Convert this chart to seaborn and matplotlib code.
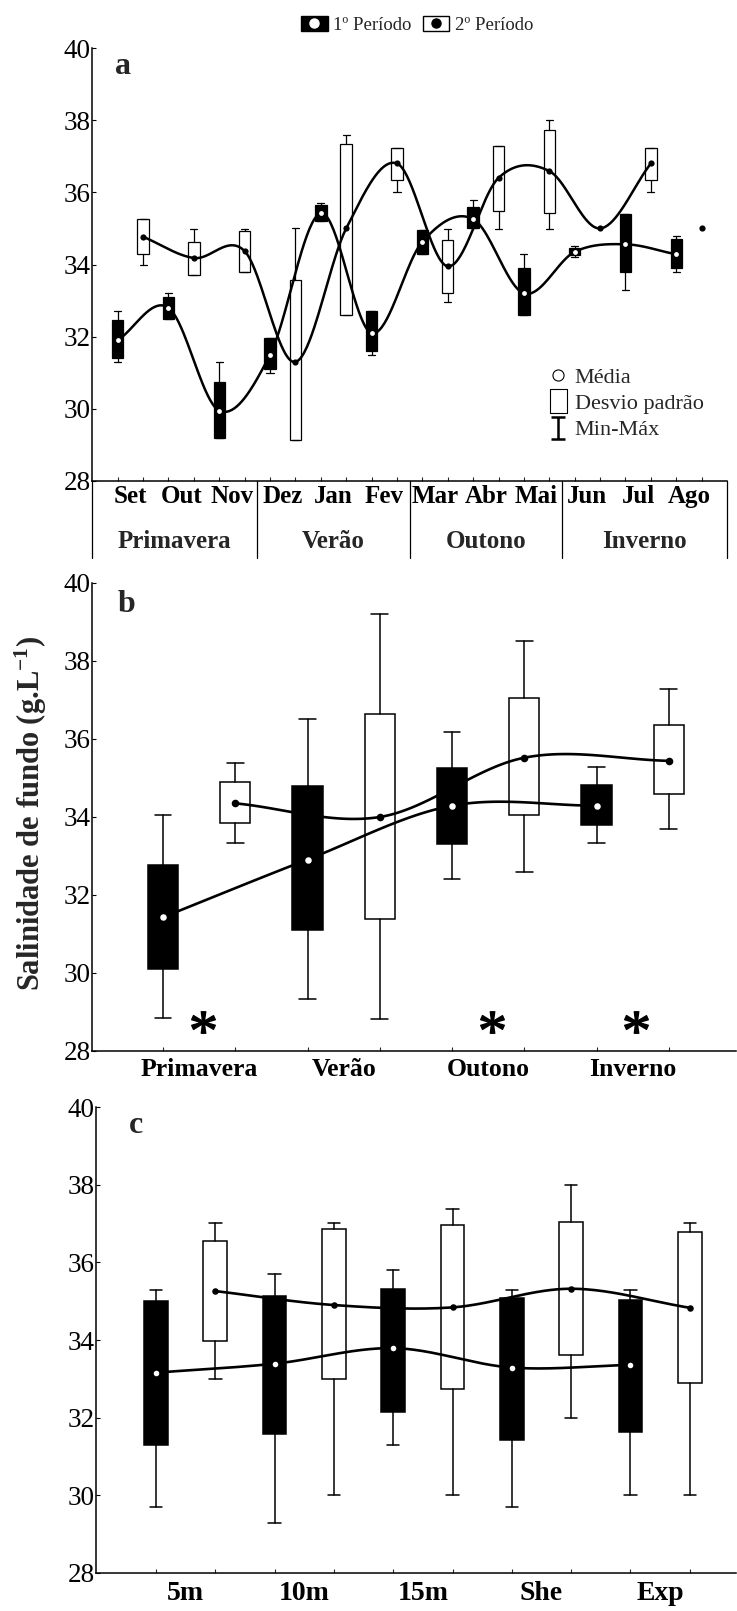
import numpy as np
import matplotlib
matplotlib.use("Agg")
import matplotlib.pyplot as plt
import matplotlib.transforms as mtransforms
from matplotlib.lines import Line2D
from matplotlib.patches import Patch
from matplotlib.path import Path
from matplotlib.legend_handler import HandlerTuple
import seaborn as sns

# ---------------- data ----------------
months = ["Set", "Out", "Nov", "Dez", "Jan", "Fev", "Mar", "Abr", "Mai", "Jun", "Jul", "Ago"]
seasons = ["Primavera", "Verão", "Outono", "Inverno"]
sites = ["5m", "10m", "15m", "She", "Exp"]
nan = np.nan

# panel a: monthly, period 1 (black) and period 2 (white)
a1_mean = [31.9, 32.8, 29.95, 31.5, 35.42, 32.1, 34.63, 35.26, 33.2, 34.35, 34.56, 34.28]
a1_lo = [31.4, 32.5, 29.2, 31.1, 35.2, 31.6, 34.3, 35.0, 32.6, 34.25, 33.8, 33.9]
a1_hi = [32.45, 33.1, 30.75, 31.95, 35.65, 32.7, 34.96, 35.6, 33.9, 34.45, 35.4, 34.7]
a1_min = [31.3, 32.5, 29.2, 31.0, 35.2, 31.5, 34.3, 35.0, 32.6, 34.2, 33.3, 33.8]
a1_max = [32.7, 33.2, 31.3, 31.95, 35.7, 32.7, 34.96, 35.8, 34.3, 34.5, 35.4, 34.78]

a2_mean = [34.77, 34.18, 34.37, 31.3, 35.0, 36.8, 33.95, 36.4, 36.59, 35.0, 36.8, 35.0]
a2_lo = [34.3, 33.7, 33.8, 29.15, 32.6, 36.35, 33.2, 35.48, 35.43, nan, 36.35, nan]
a2_hi = [35.25, 34.63, 34.93, 33.57, 37.33, 37.24, 34.68, 37.28, 37.74, nan, 37.24, nan]
a2_min = [34.0, 33.7, 33.8, 29.15, 32.6, 36.0, 32.95, 34.97, 34.97, nan, 36.0, nan]
a2_max = [35.25, 34.97, 34.97, 35.0, 37.6, 37.24, 34.97, 37.28, 38.0, nan, 37.24, nan]
a2_on_curve = [True] * 11 + [False]

# panel b: seasons
b1_mean = [31.43, 32.91, 34.29, 34.29]
b1_lo = [30.09, 31.1, 33.32, 33.8]
b1_hi = [32.78, 34.79, 35.25, 34.83]
b1_min = [28.85, 29.34, 32.4, 33.33]
b1_max = [34.06, 36.52, 36.17, 35.27]

b2_mean = [34.35, 34.0, 35.52, 35.44]
b2_lo = [33.84, 31.38, 34.06, 34.58]
b2_hi = [34.9, 36.63, 37.05, 36.37]
b2_min = [33.34, 28.83, 32.6, 33.7]
b2_max = [35.38, 39.2, 38.52, 37.27]
b_signif = [True, False, True, True]
b_signif_y = 28.75

# panel c: depth strata / areas
c1_mean = [33.16, 33.39, 33.79, 33.29, 33.36]
c1_lo = [31.3, 31.57, 32.15, 31.42, 31.62]
c1_hi = [35.0, 35.13, 35.32, 35.09, 35.04]
c1_min = [29.7, 29.3, 31.29, 29.7, 30.0]
c1_max = [35.3, 35.71, 35.8, 35.3, 35.3]

c2_mean = [35.26, 34.9, 34.84, 35.32, 34.83]
c2_lo = [33.97, 33.0, 32.74, 33.62, 32.88]
c2_hi = [36.55, 36.85, 36.95, 37.05, 36.78]
c2_min = [33.0, 30.0, 30.0, 32.0, 30.0]
c2_max = [37.0, 37.0, 37.38, 38.0, 37.0]

y_ticks = [28, 30, 32, 34, 36, 38, 40]

# ---------------- style ----------------
sns.set_theme(style="ticks")
plt.rcParams["font.family"] = ["Liberation Serif", "DejaVu Serif"]
plt.rcParams["mathtext.fontset"] = "custom"
plt.rcParams["mathtext.rm"] = "Liberation Serif"
plt.rcParams["mathtext.bf"] = "Liberation Serif:bold"
plt.rcParams["mathtext.it"] = "Liberation Serif:italic"


def catmull_rom(x, y, n_seg=40):
    """Cubic Hermite curve through the points with Catmull-Rom tangents."""
    x = np.asarray(x, float)
    y = np.asarray(y, float)
    m = len(x)
    tang = np.empty(m)
    tang[1:-1] = (y[2:] - y[:-2]) / 2
    tang[0] = y[1] - y[0]
    tang[-1] = y[-1] - y[-2]
    xs, ys = [], []
    t = np.linspace(0, 1, n_seg, endpoint=False)
    h00 = 2 * t ** 3 - 3 * t ** 2 + 1
    h10 = t ** 3 - 2 * t ** 2 + t
    h01 = -2 * t ** 3 + 3 * t ** 2
    h11 = t ** 3 - t ** 2
    for i in range(m - 1):
        xs.append(x[i] + t * (x[i + 1] - x[i]))
        ys.append(h00 * y[i] + h10 * tang[i] + h01 * y[i + 1] + h11 * tang[i + 1])
    xs.append([x[-1]])
    ys.append([y[-1]])
    return np.concatenate(xs), np.concatenate(ys)


def draw_boxes(ax, pos, mean, lo, hi, mn, mx, face, width, capw, lw):
    stats, ps = [], []
    for p, m, a, b, c, d in zip(pos, mean, lo, hi, mn, mx):
        if np.isnan(a):
            continue
        stats.append(dict(med=m, q1=a, q3=b, whislo=c, whishi=d, fliers=[]))
        ps.append(p)
    ax.bxp(stats, positions=ps, widths=width, capwidths=capw, patch_artist=True,
           showfliers=False, manage_ticks=False,
           boxprops=dict(facecolor=face, edgecolor="black", linewidth=lw),
           whiskerprops=dict(color="black", linewidth=lw),
           capprops=dict(color="black", linewidth=lw),
           medianprops=dict(visible=False), zorder=2)


def draw_curve(ax, x, y, lw):
    xs, ys = catmull_rom(x, y)
    sns.lineplot(x=xs, y=ys, ax=ax, color="black", linewidth=lw,
                 estimator=None, sort=False, zorder=3)


def style_axis(ax, xlim, ytick_size=19.5):
    ax.set_xlim(*xlim)
    ax.set_ylim(28, 40)
    ax.set_yticks(y_ticks)
    ax.set_yticklabels([str(t) for t in y_ticks])
    for s in ["top", "right"]:
        ax.spines[s].set_visible(False)
    for s in ["left", "bottom"]:
        ax.spines[s].set_linewidth(1.1)
        ax.spines[s].set_color("black")
    ax.tick_params(axis="y", which="both", direction="in", length=3, width=0.8,
                   labelsize=ytick_size, pad=1, colors="black")
    ax.tick_params(axis="x", which="major", direction="in", length=3, width=0.8,
                   labelbottom=False)
    ax.set_xlabel("")
    ax.set_ylabel("")
    ax.grid(False)
    ax.set_facecolor("white")


def group_ticks(ax, n, labels, size, pad):
    ax.set_xticks(np.arange(2 * n), minor=False)
    ax.set_xticks(np.arange(n) * 2 + 0.5, minor=True)
    ax.set_xticklabels(labels, minor=True, fontweight="bold", fontsize=size)
    ax.tick_params(axis="x", which="minor", length=0, pad=pad, labelsize=size,
                   colors="black", labelbottom=True)


W, H = 737, 1611
fig = plt.figure(figsize=(W / 100, H / 100), dpi=100)
fig.patch.set_facecolor("white")


def add_axes_px(left, right, top, bottom):
    return fig.add_axes([left / W, 1 - bottom / H, (right - left) / W, (bottom - top) / H])


axA = add_axes_px(92, 727, 48, 481)
axB = add_axes_px(92, 736, 583, 1051)
axC = add_axes_px(96, 736, 1107, 1573)

# ---------------- panel a ----------------
nA = len(months)
posA1 = np.arange(nA) * 2
posA2 = np.arange(nA) * 2 + 1
draw_boxes(axA, posA1, a1_mean, a1_lo, a1_hi, a1_min, a1_max, "black", 0.45, 0.28, 0.9)
draw_boxes(axA, posA2, a2_mean, a2_lo, a2_hi, a2_min, a2_max, "white", 0.45, 0.28, 0.9)
draw_curve(axA, posA1, a1_mean, 1.8)
mask = np.array(a2_on_curve)
draw_curve(axA, posA2[mask], np.array(a2_mean)[mask], 1.8)
sns.scatterplot(x=posA1, y=a1_mean, ax=axA, color="white", s=12, linewidth=0, zorder=5)
sns.scatterplot(x=posA2, y=a2_mean, ax=axA, color="black", s=20, linewidth=0, zorder=5)
style_axis(axA, (-1.013, 24.0))
group_ticks(axA, nA, months, 18, 3)

# season row with separators under the month labels
sep_x = [-1.013, 5.5, 11.5, 17.5, 24.0]
trA = mtransforms.blended_transform_factory(axA.transData, axA.transAxes)
for sx in sep_x:
    axA.plot([sx, sx], [0, -0.178], transform=trA, color="black", lw=0.9, clip_on=False)
for i, s in enumerate(seasons):
    cx = (sep_x[i] + sep_x[i + 1]) / 2
    axA.text(cx, -0.139, s, transform=trA, ha="center", va="center",
             fontsize=18, fontweight="bold")
axA.text(0.049, 0.958, "a", transform=axA.transAxes, fontsize=23, fontweight="bold",
         va="center", ha="center")

# key for the box elements
rect_marker = Path([(-0.36, -0.5), (0.36, -0.5), (0.36, 0.5), (-0.36, 0.5), (-0.36, -0.5)],
                   [Path.MOVETO, Path.LINETO, Path.LINETO, Path.LINETO, Path.CLOSEPOLY])
range_marker = Path([(-0.3, 0.5), (0.3, 0.5), (0, 0.5), (0, -0.5), (-0.3, -0.5), (0.3, -0.5)],
                    [Path.MOVETO, Path.LINETO, Path.MOVETO, Path.LINETO, Path.MOVETO, Path.LINETO])
h_mean = Line2D([], [], ls="none", marker="o", ms=8, mfc="white", mec="black", mew=0.8)
h_sd = Line2D([], [], ls="none", marker=rect_marker, ms=17, mfc="white", mec="black", mew=0.8)
h_rng = Line2D([], [], ls="none", marker=range_marker, ms=16, mfc="none", mec="black", mew=1.8)
axA.legend([h_mean, h_sd, h_rng], ["Média", "Desvio padrão", "Min-Máx"],
           loc="upper left", bbox_to_anchor=(0.718, 0.262), frameon=False, fontsize=16,
           handlelength=0.9, handletextpad=0.3, labelspacing=0.25,
           borderaxespad=0, borderpad=0)

# ---------------- panel b ----------------
nB = len(seasons)
posB1 = np.arange(nB) * 2
posB2 = np.arange(nB) * 2 + 1
draw_boxes(axB, posB1, b1_mean, b1_lo, b1_hi, b1_min, b1_max, "black", 0.42, 0.23, 1.1)
draw_boxes(axB, posB2, b2_mean, b2_lo, b2_hi, b2_min, b2_max, "white", 0.42, 0.23, 1.1)
draw_curve(axB, posB1, b1_mean, 1.9)
draw_curve(axB, posB2, b2_mean, 1.9)
sns.scatterplot(x=posB1, y=b1_mean, ax=axB, color="white", s=22, linewidth=0, zorder=5)
sns.scatterplot(x=posB2, y=b2_mean, ax=axB, color="black", s=30, linewidth=0, zorder=5)
style_axis(axB, (-0.983, 7.93))
group_ticks(axB, nB, seasons, 18.5, 5)
sig_x = [p + 0.55 for p, s in zip(posB1, b_signif) if s]
axB.plot(sig_x, [b_signif_y] * len(sig_x), ls="none", marker="$*$", ms=17,
         color="black", zorder=5)
axB.text(0.053, 0.955, "b", transform=axB.transAxes, fontsize=23, fontweight="bold",
         va="center", ha="center")

# ---------------- panel c ----------------
nC = len(sites)
posC1 = np.arange(nC) * 2
posC2 = np.arange(nC) * 2 + 1
draw_boxes(axC, posC1, c1_mean, c1_lo, c1_hi, c1_min, c1_max, "black", 0.4, 0.21, 1.1)
draw_boxes(axC, posC2, c2_mean, c2_lo, c2_hi, c2_min, c2_max, "white", 0.4, 0.21, 1.1)
draw_curve(axC, posC1, c1_mean, 1.9)
draw_curve(axC, posC2, c2_mean, 1.9)
sns.scatterplot(x=posC1, y=c1_mean, ax=axC, color="white", s=16, linewidth=0, zorder=5)
sns.scatterplot(x=posC2, y=c2_mean, ax=axC, color="black", s=22, linewidth=0, zorder=5)
style_axis(axC, (-1.012, 9.78))
group_ticks(axC, nC, sites, 20, 6)
axC.text(0.0625, 0.96, "c", transform=axC.transAxes, fontsize=23, fontweight="bold",
         va="center", ha="center")

# ---------------- shared elements ----------------
fig.text(0.042, 0.495, "Salinidade de fundo (g.L$^{\\mathbf{-1}}$)", rotation=90,
         ha="center", va="center", fontsize=22, fontweight="bold")

p1_handle = (Patch(facecolor="black", edgecolor="black", linewidth=1.0),
             Line2D([], [], ls="none", marker="o", ms=6.5, mfc="white", mec="white"))
p2_handle = (Patch(facecolor="white", edgecolor="black", linewidth=1.0),
             Line2D([], [], ls="none", marker="o", ms=6.5, mfc="black", mec="black"))
fig.legend([p1_handle, p2_handle], ["1º Período", "2º Período"], loc="center",
           bbox_to_anchor=(0.566, 1 - 25 / H), ncol=2, frameon=False, fontsize=13.5,
           handler_map={tuple: HandlerTuple(ndivide=1)},
           handlelength=1.4, handleheight=0.85, handletextpad=0.3, columnspacing=0.6,
           borderpad=0)

fig.savefig("out.png", dpi=100, facecolor="white")
